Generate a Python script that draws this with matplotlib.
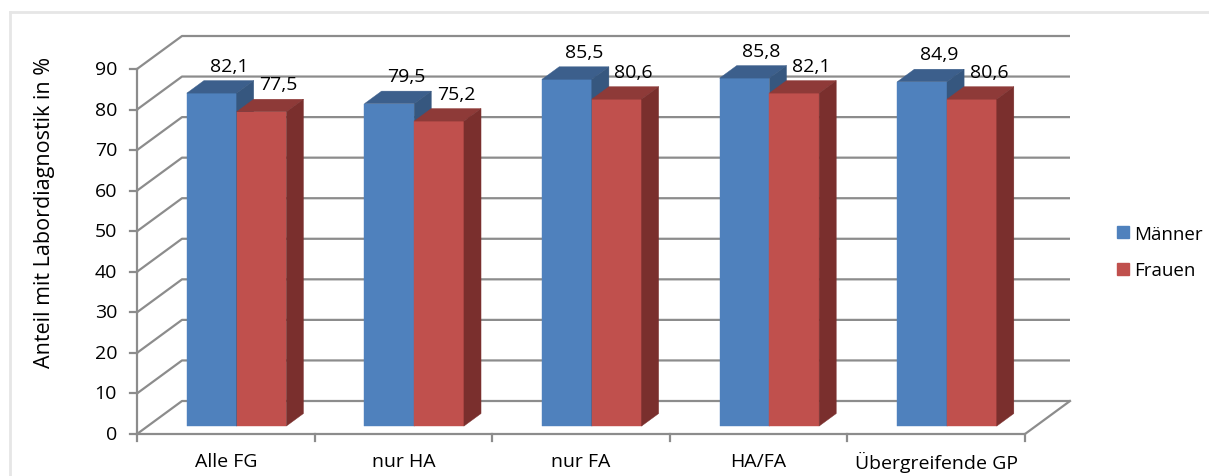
import matplotlib
matplotlib.use("Agg")
import matplotlib.pyplot as plt
from matplotlib.patches import Polygon, Patch
from matplotlib.lines import Line2D

plt.rcParams['font.family'] = ['Open Sans', 'DejaVu Sans']

# daten
categories = ["Alle FG", "nur HA", "nur FA", "HA/FA", "Übergreifende GP"]
maenner = [82.1, 79.5, 85.5, 85.8, 84.9]
frauen = [77.5, 75.2, 80.6, 82.1, 80.6]
series_names = ["Männer", "Frauen"]
y_ticks = list(range(0, 100, 10))
y_label = "Anteil mit Labordiagnostik in %"

# farben (vorne, oben, seite)
blue = ("#4f81bd", "#3c5f8c", "#36577f")
red = ("#c0504d", "#8e3a38", "#7a2f2d")
grid_col = "#8c8c8c"
fs = 14

W, H = 1209, 477
fig = plt.figure(figsize=(W / 100, H / 100), dpi=100)
ax = fig.add_axes([0, 0, 1, 1])
ax.axis("off")

# pixel-massstab: 0..5 kategorien -> 137..1025 px, 0..90 -> 435..70 px
px_x = (1025 - 137) / 5
px_y = (435 - 70) / 90
ax.set_xlim(-137 / px_x, (W - 137) / px_x)
ax.set_ylim(-(H - 435) / px_y, 435 / px_y)

# 3d-tiefe (ganze wand)
DX = 45 / px_x
DY = 33 / px_y
d0, d1 = 0.24, 0.62
bw = 0.28
n = len(categories)


def pt(x, y, d):
    return (x + d * DX, y + d * DY)


# gitter / rueckwand
for v in y_ticks:
    xs, ys = zip(pt(0, v, 0), pt(0, v, 1), pt(n, v, 1))
    ax.plot(xs, ys, color=grid_col, lw=1.6, zorder=1, solid_capstyle="butt")
    ax.plot([-7 / px_x, 0], [v, v], color=grid_col, lw=1.6, zorder=1)
    ax.text(-20 / px_x, v, str(v), ha="right", va="center", fontsize=fs)

# boden + achsen
xs, ys = zip(pt(0, 0, 0), pt(n, 0, 0), pt(n, 0, 1))
ax.plot(xs, ys, color=grid_col, lw=1.6, zorder=1)
ax.plot([0, 0], [0, 90], color=grid_col, lw=1.6, zorder=1)
for i in range(n + 1):
    ax.plot([i, i], [0, -7 / px_y], color=grid_col, lw=1.6, zorder=1)


def bar3d(x0, x1, v, cols, z):
    front = [pt(x0, 0, d0), pt(x1, 0, d0), pt(x1, v, d0), pt(x0, v, d0)]
    top = [pt(x0, v, d0), pt(x1, v, d0), pt(x1, v, d1), pt(x0, v, d1)]
    side = [pt(x1, 0, d0), pt(x1, v, d0), pt(x1, v, d1), pt(x1, 0, d1)]
    for poly, c in zip((front, top, side), cols):
        ax.add_patch(Polygon(poly, closed=True, facecolor=c, edgecolor=c,
                             lw=0.3, zorder=z))
    xl = (x0 + x1) / 2 + d1 * DX
    ax.text(xl, v + d1 * DY + 10 / px_y, f"{v:.1f}".replace(".", ","),
            ha="center", va="baseline", fontsize=fs, zorder=z + 1)


for i in range(n):
    c = i + 0.5
    bar3d(c - bw, c, maenner[i], blue, 3)
    bar3d(c, c + bw, frauen[i], red, 4)
    ax.text(c, -27 / px_y, categories[i], ha="center", va="center", fontsize=fs)

ax.text(-92 / px_x, (435 - 212) / px_y, y_label, rotation=90,
        ha="center", va="center", fontsize=15.5)

handles = [Patch(facecolor=blue[0], edgecolor=blue[0]),
           Patch(facecolor=red[0], edgecolor=red[0])]
fig.legend(handles, series_names, loc="center left",
           bbox_to_anchor=(1117 / W, 1 - 253 / H), frameon=False,
           borderpad=0, borderaxespad=0,
           fontsize=13.5, handlelength=0.65, handleheight=0.65,
           handletextpad=0.25, labelspacing=1.0)

# rahmen
fig.add_artist(Line2D([10 / W, 10 / W], [0, 1 - 13 / H], color="#e6e6e6", lw=2))
fig.add_artist(Line2D([10 / W, 1], [1 - 13 / H, 1 - 13 / H], color="#e6e6e6", lw=2))

fig.savefig("out.png", dpi=100)
